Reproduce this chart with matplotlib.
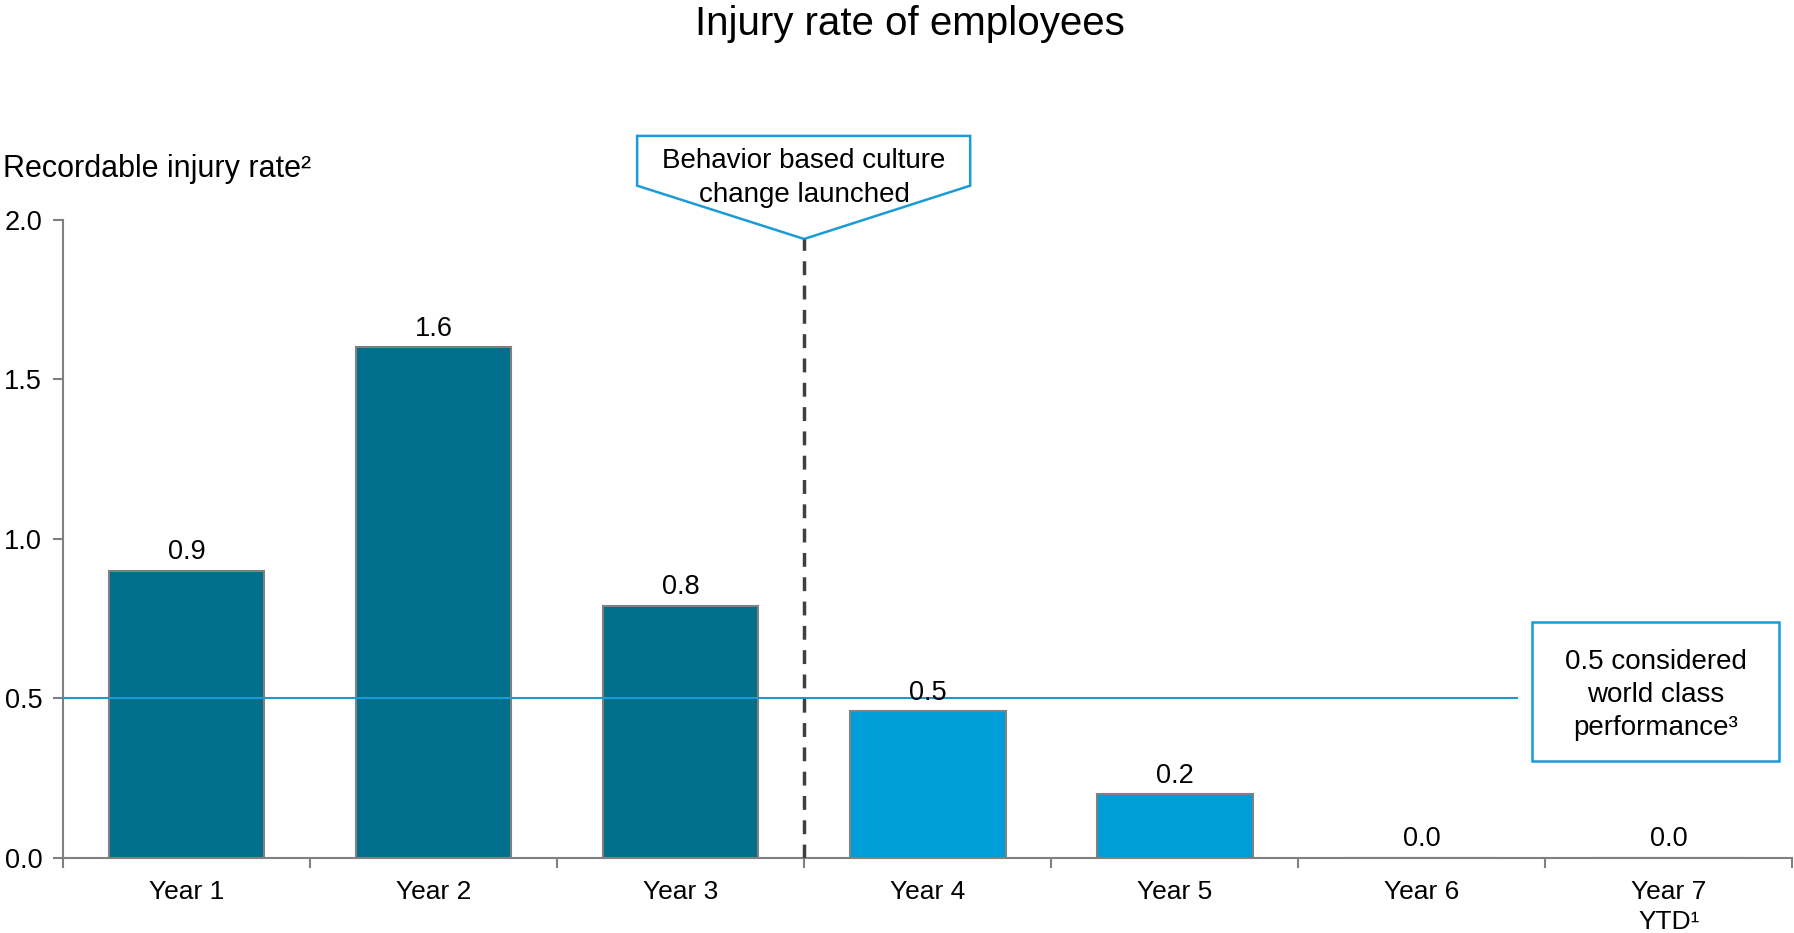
import matplotlib.pyplot as plt
from matplotlib.patches import Rectangle, Polygon

plt.rcParams['font.family'] = ['Liberation Sans', 'DejaVu Sans']

# injury rate per year
years = ['Year 1', 'Year 2', 'Year 3', 'Year 4', 'Year 5', 'Year 6', 'Year 7\nYTD¹']
rates = [0.9, 1.6, 0.79, 0.46, 0.2, 0.0, 0.0]
before_launch = 3  # first three years are before the culture change
benchmark = 0.5

dark = '#006F8C'
light = '#009ED8'
edge = '#808080'
accent = '#1A9BD7'

fig = plt.figure(figsize=(17.94, 9.33), dpi=100)
ax = fig.add_axes([0.0351, 0.0804, 0.964, 0.684])

x = list(range(len(years)))
colors = [dark if i < before_launch else light for i in x]
bars = ax.bar(x, rates, width=0.63, color=colors, edgecolor=edge, linewidth=1.5, zorder=2)

for xi, v in zip(x, rates):
    ax.annotate(f'{v:.1f}', (xi, v), xytext=(0, 4), textcoords='offset points',
                ha='center', va='bottom', fontsize=19.5, zorder=4)

ax.set_xlim(-0.5, 6.5)
ax.set_ylim(0, 2.0)
ax.set_yticks([0, 0.5, 1.0, 1.5, 2.0])
ax.set_yticklabels([f'{t:.1f}' for t in [0, 0.5, 1.0, 1.5, 2.0]])
ax.set_xticks(x)
ax.set_xticklabels(years, fontsize=19, linespacing=1.3)
ax.tick_params(axis='x', length=0, pad=16)
ax.set_xticks([i - 0.5 for i in range(len(years) + 1)], minor=True)
ax.tick_params(axis='x', which='minor', length=7, width=1.5, color=edge, direction='out')
ax.tick_params(axis='y', labelsize=19.5, length=7, width=1.5, color=edge, pad=8)
for s in ['top', 'right']:
    ax.spines[s].set_visible(False)
for s in ['left', 'bottom']:
    ax.spines[s].set_color(edge)
    ax.spines[s].set_linewidth(1.5)

# world class benchmark line and box
ax.hlines(benchmark, -0.5, 5.39, color=accent, linewidth=1.5, zorder=3)
ax.add_patch(Rectangle((5.447, 0.304), 1.0, 0.436, fill=False, edgecolor=accent,
                       linewidth=1.8, clip_on=False, zorder=3))
ax.text(5.947, 0.51, '0.5 considered\nworld class\nperformance³', ha='center', va='center',
        fontsize=20, linespacing=1.35)

# culture change marker
ax.vlines(2.5, 0, 1.94, color='#404040', linestyle=(0, (4, 3)), linewidth=2.5, zorder=3)
ax.add_patch(Polygon([(1.824, 2.263), (3.172, 2.263), (3.172, 2.107), (2.5, 1.94), (1.824, 2.107)],
                     closed=True, fill=False, edgecolor=accent, linewidth=1.8, clip_on=False))
ax.text(2.5, 2.13, 'Behavior based culture\nchange launched', ha='center', va='center',
        fontsize=20, linespacing=1.4)

fig.text(0.0017, 0.819, 'Recordable injury rate²', ha='left', va='center', fontsize=22)
fig.text(0.507, 0.974, 'Injury rate of employees', ha='center', va='center', fontsize=29)

fig.savefig('out.png', dpi=100)
